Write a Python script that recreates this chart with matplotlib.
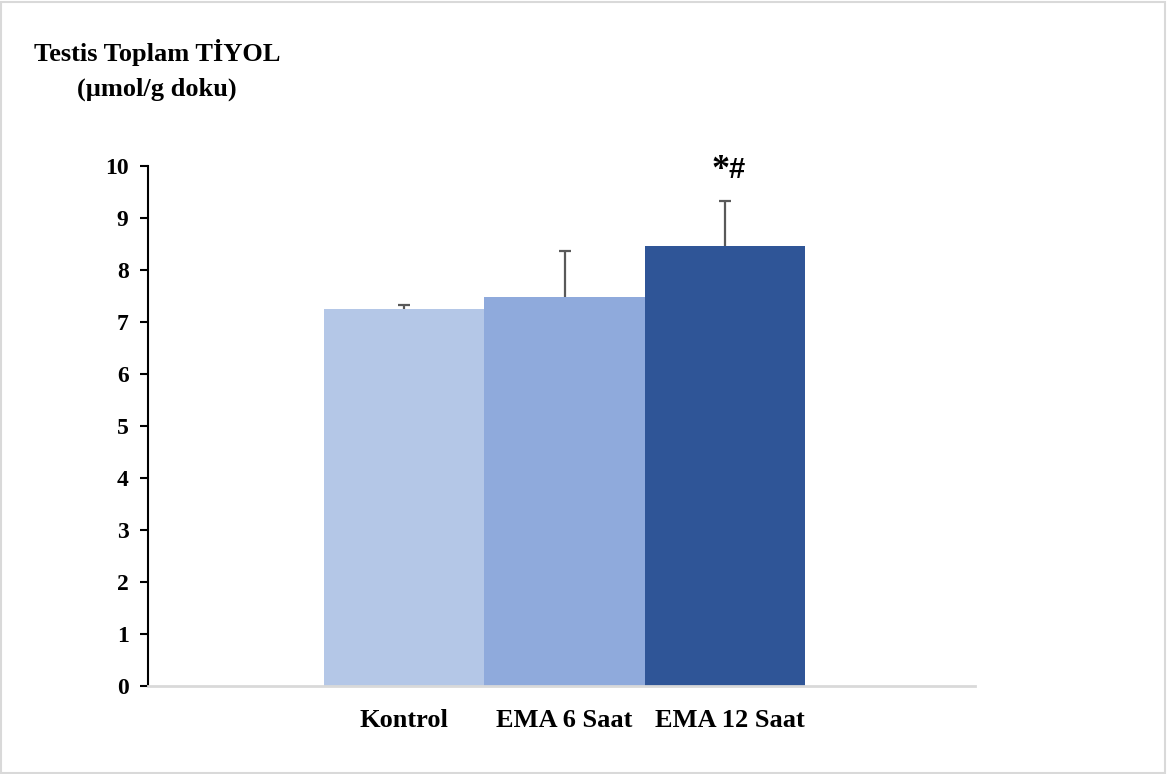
import matplotlib.pyplot as plt
from matplotlib.patches import Rectangle

groups = ["Kontrol", "EMA 6 Saat", "EMA 12 Saat"]
means = [7.25, 7.48, 8.46]
errors = [0.08, 0.89, 0.87]
colors = ["#b4c7e7", "#8faadc", "#2f5597"]

plt.rcParams['font.family'] = ['Liberation Serif', 'DejaVu Serif']
plt.rcParams['font.weight'] = 'bold'

fig = plt.figure(figsize=(11.67, 7.74), dpi=100)
W, H = 1167, 774
ax = fig.add_axes([148 / W, 1 - 686 / H, (975 - 148) / W, (686 - 166) / H])

x = range(len(groups))
# symmetric error bars drawn behind the bars so only the upper half shows
ax.errorbar(x, means, yerr=errors, fmt='none', ecolor='#595959',
            elinewidth=1.6, capsize=4.5, capthick=1.6, zorder=1)
ax.bar(x, means, width=1.0, color=colors, zorder=2)

ax.set_xlim(-0.5 - 176 / 160, 2.5 + 170 / 160)
ax.set_ylim(0, 10)
ax.set_yticks(range(0, 11))
ax.set_yticklabels([str(i) for i in range(0, 11)], fontsize=17, fontweight='bold')
ax.set_xticks([])
for i, g in enumerate(groups):
    ax.text(i + (0.03 if i == 2 else 0), -0.67, g, ha='center', va='center',
            fontsize=19, fontweight='bold')

for s in ['top', 'right']:
    ax.spines[s].set_visible(False)
ax.spines['left'].set_color('black')
ax.spines['left'].set_linewidth(1.5)
ax.spines['bottom'].set_color('#d9d9d9')
ax.spines['bottom'].set_linewidth(2)
ax.tick_params(axis='y', direction='out', length=6, width=1.5, pad=8)

# significance marks above the 12 h bar
ax.text(1.975, 9.92, "*", ha='center', va='center', fontsize=26, fontweight='bold')
ax.text(2.072, 9.93, "#", ha='center', va='center', fontsize=21, fontweight='bold',
        family=['Liberation Sans', 'DejaVu Sans'])

fig.text(157 / W, 1 - 52 / H, "Testis Toplam TİYOL", ha='center', va='center',
         fontsize=19, fontweight='bold')
fig.text(157 / W, 1 - 89 / H, "(µmol/g doku)", ha='center', va='center',
         fontsize=19, fontweight='bold')

fig.patches.append(Rectangle((1 / W, 1 / H), 1 - 3 / W, 1 - 3 / H, transform=fig.transFigure,
                             fill=False, edgecolor='#d9d9d9', linewidth=1.5))

fig.savefig("out.png", dpi=100)
